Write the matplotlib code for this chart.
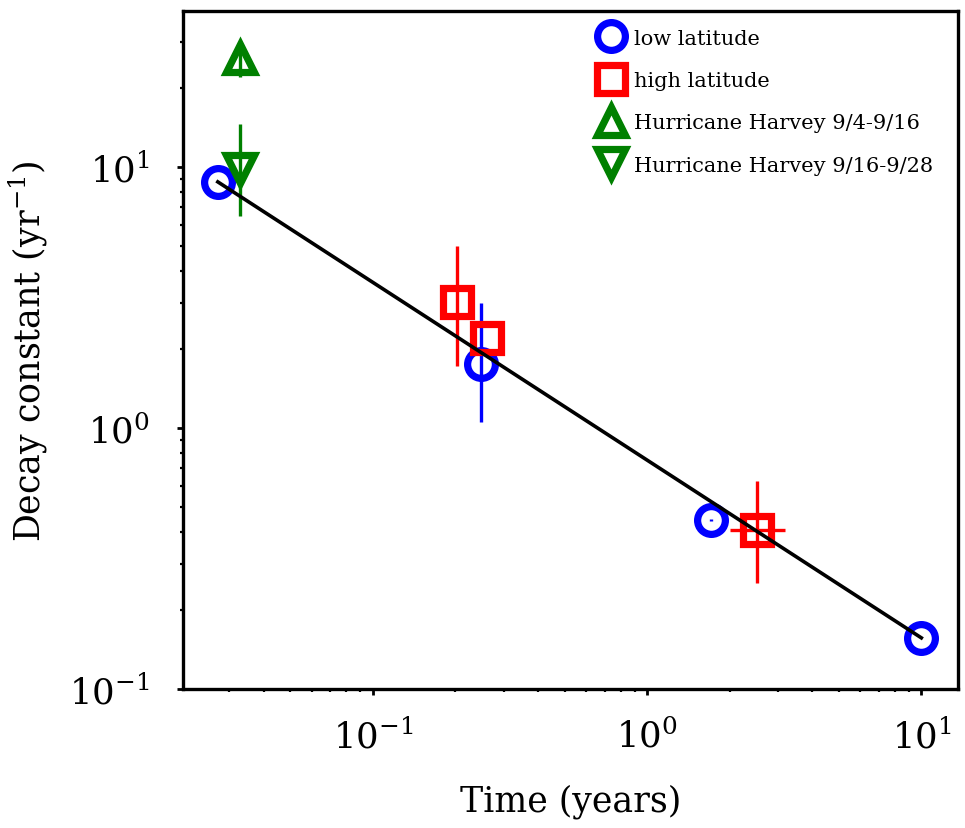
import matplotlib
matplotlib.use("Agg")
import matplotlib.pyplot as plt

plt.rcParams['font.family'] = ['DejaVu Serif']
plt.rcParams['mathtext.fontset'] = 'dejavuserif'

# ---- data ----
low_x = [0.0272, 0.248, 1.71, 10.0]
low_y = [8.77, 1.76, 0.444, 0.157]
low_yerr_lo = [0.0, 0.71, 0.004, 0.0]
low_yerr_hi = [0.0, 1.25, 0.004, 0.0]

high_x = [0.203, 0.26, 2.52]
high_y = [3.04, 2.21, 0.407]
high_yerr_lo = [1.31, 0.0, 0.152]
high_yerr_hi = [1.94, 0.0, 0.219]
high_xerr_lo = [0.0, 0.0, 0.51]
high_xerr_hi = [0.0, 0.0, 0.67]

h1_x = [0.0327]
h1_y = [26.2]
h1_yerr_lo = [4.0]
h1_yerr_hi = [4.0]

h2_x = [0.0327]
h2_y = [9.82]
h2_yerr_lo = [3.33]
h2_yerr_hi = [4.8]

fit_x = [0.0272, 10.0]
fit_y = [8.77, 0.157]

labels = ['low latitude', 'high latitude',
          'Hurricane Harvey 9/4-9/16', 'Hurricane Harvey 9/16-9/28']

# ---- figure ----
fig = plt.figure(figsize=(9.65, 8.29), dpi=100)
ax = fig.add_axes([0.1896, 0.1677, 0.8031, 0.8178])
ax.set_xscale('log')
ax.set_yscale('log')

ms = 20
mew = 5.2
elw = 2.4

ax.errorbar(low_x, low_y, yerr=[low_yerr_lo, low_yerr_hi], fmt='none',
            ecolor='blue', elinewidth=elw, capsize=0, zorder=2)
ax.errorbar(high_x, high_y, yerr=[high_yerr_lo, high_yerr_hi],
            xerr=[high_xerr_lo, high_xerr_hi], fmt='none',
            ecolor='red', elinewidth=elw, capsize=0, zorder=2)
ax.errorbar(h1_x, h1_y, yerr=[h1_yerr_lo, h1_yerr_hi], fmt='none',
            ecolor='green', elinewidth=elw, capsize=0, zorder=2)
ax.errorbar(h2_x, h2_y, yerr=[h2_yerr_lo, h2_yerr_hi], fmt='none',
            ecolor='green', elinewidth=elw, capsize=0, zorder=2)

l1, = ax.plot(low_x, low_y, 'o', ms=ms, mew=mew, mec='blue', mfc='none',
              zorder=3, label=labels[0])
l2, = ax.plot(high_x, high_y, 's', ms=ms, mew=mew, mec='red', mfc='none',
              zorder=3, label=labels[1])
l3, = ax.plot(h1_x, h1_y, '^', ms=ms, mew=mew, mec='green', mfc='none',
              zorder=3, label=labels[2])
l4, = ax.plot(h2_x, h2_y, 'v', ms=ms, mew=mew, mec='green', mfc='none',
              zorder=3, label=labels[3])

ax.plot(fit_x, fit_y, '-', color='black', lw=2.6, zorder=4)

ax.set_xlim(0.0203, 13.6)
ax.set_ylim(0.1, 39.6)

for s in ax.spines.values():
    s.set_linewidth(2.4)

ax.tick_params(which='major', length=4, width=2, labelsize=25.5)
ax.tick_params(axis='x', which='major', pad=17)
ax.tick_params(axis='y', which='major', pad=20)
ax.tick_params(which='minor', length=2.5, width=1.6)

ax.set_xlabel('Time (years)', fontsize=25, labelpad=21)
ax.set_ylabel('Decay constant (yr$^{-1}$)', fontsize=25, labelpad=14)

ax.legend(handles=[l1, l2, l3, l4], loc='upper left',
          bbox_to_anchor=(0.513, 1.0), frameon=False, fontsize=15,
          handlelength=1.2, handletextpad=0.5, labelspacing=1.12,
          borderaxespad=0.45)

fig.savefig('out.png', dpi=100)
